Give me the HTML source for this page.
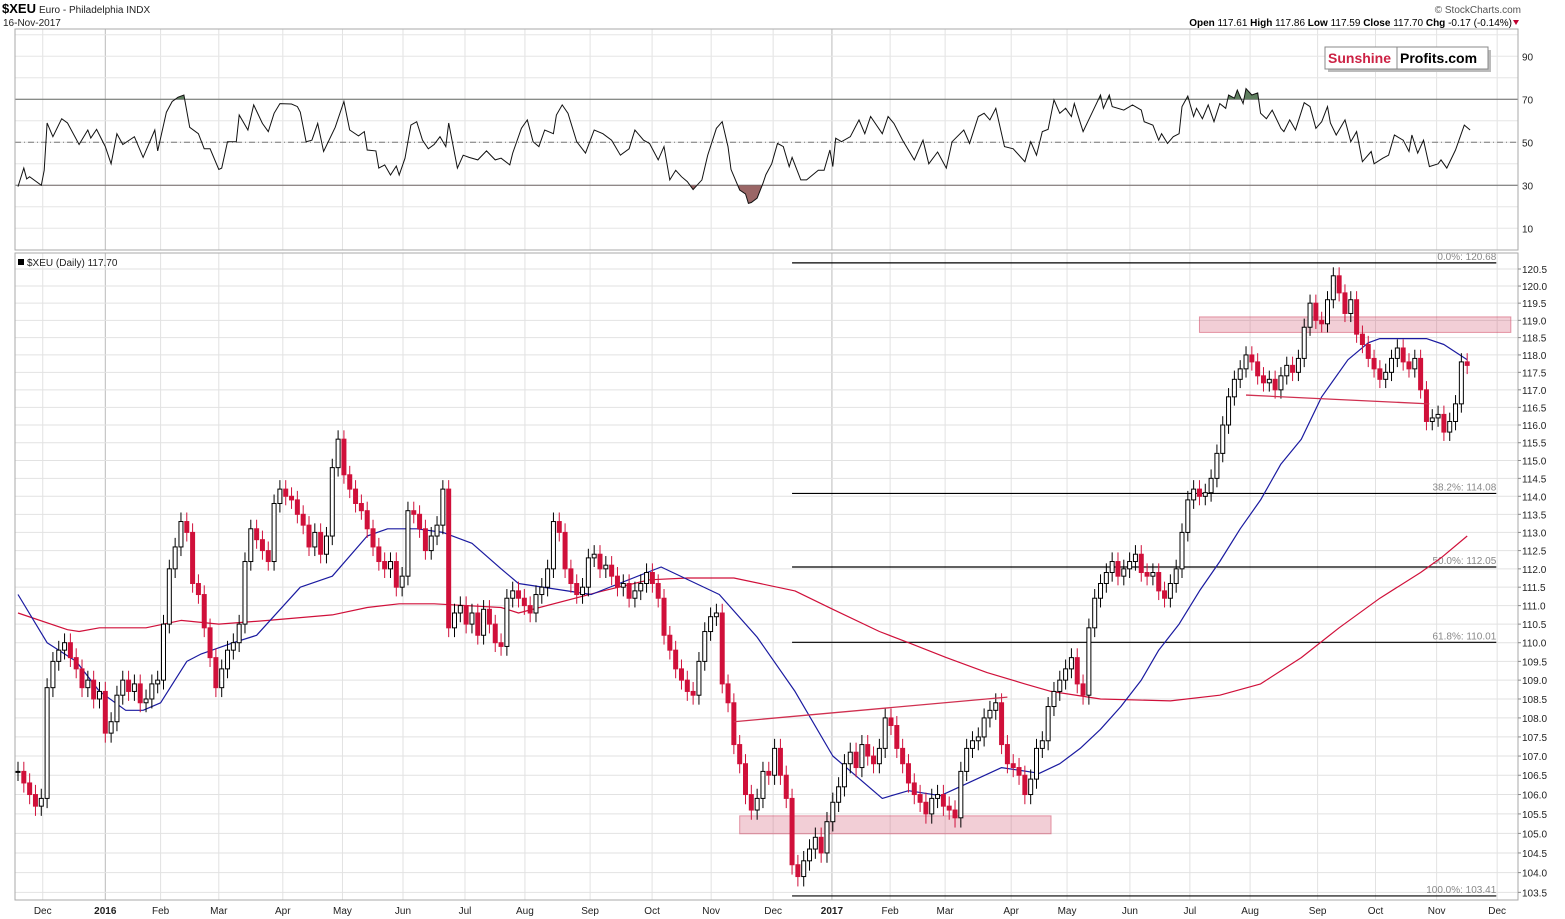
<!DOCTYPE html>
<html><head><meta charset="utf-8">
<style>
body{margin:0;background:#fff;}
svg{display:block;font-family:"Liberation Sans",Arial,sans-serif;}
</style></head>
<body>
<svg id="chart" width="1565" height="919" viewBox="0 0 1565 919" xmlns="http://www.w3.org/2000/svg">
<rect x="0" y="0" width="1565" height="919" fill="#fff"/>
<g>
<text x="2" y="13" font-size="13" font-weight="bold" fill="#000">$XEU</text>
<text x="39" y="13" font-size="10" fill="#222">Euro - Philadelphia INDX</text>
<text x="3" y="26" font-size="10" fill="#222">16-Nov-2017</text>
<text x="1521" y="13" font-size="10" fill="#555" text-anchor="end">© StockCharts.com</text>
<text x="1512" y="26" font-size="10" fill="#000" text-anchor="end"><tspan font-weight="bold">Open</tspan> 117.61 <tspan font-weight="bold">High</tspan> 117.86 <tspan font-weight="bold">Low</tspan> 117.59 <tspan font-weight="bold">Close</tspan> 117.70 <tspan font-weight="bold">Chg</tspan> -0.17 (-0.14%)</text>
<path d="M1513 20 L1519 20 L1516 25 Z" fill="#c00030"/>
</g>
<g id="grid"></g>
<g id="rsi"></g>
<g id="main"></g>
<g id="axes"></g>
<g>
<rect x="1328" y="50" width="163" height="22" fill="#bbb"/>
<rect x="1325" y="47" width="163" height="22" fill="#fff" stroke="#888" stroke-width="1"/>
<line x1="1397" y1="47" x2="1397" y2="69" stroke="#888"/>
<text x="1328" y="63" font-size="14" font-weight="bold" fill="#cc2244">Sunshine</text>
<text x="1400" y="63" font-size="14" font-weight="bold" fill="#000">Profits.com</text>
</g>
</svg>
<script>
// ---- data ----
const closes=[106.6,106.3,106.0,105.7,105.9,108.8,109.5,109.8,110.0,109.6,
109.3,108.8,109.0,108.5,108.7,107.6,107.9,108.6,109.0,108.7,
108.9,108.4,108.5,108.9,109.0,110.5,112.0,112.6,113.3,113.0,
111.6,111.3,110.4,109.6,108.8,109.3,109.8,110.0,110.5,112.2,
113.1,112.8,112.5,112.2,113.8,114.2,114.0,113.9,113.5,113.2,
112.6,113.0,112.4,112.9,114.8,115.6,114.6,114.2,113.8,113.6,
113.1,112.6,112.2,112.0,112.2,111.5,111.8,113.6,113.5,113.1,
112.5,112.9,113.2,114.2,110.4,110.8,111.0,110.5,110.8,110.2,
110.9,110.5,110.0,109.9,111.2,111.4,111.2,111.0,110.8,111.3,
111.5,112.0,113.3,113.0,112.0,111.6,111.3,111.5,112.3,112.4,
112.0,112.1,111.8,111.5,111.6,111.2,111.4,111.6,111.9,111.6,
111.2,110.2,109.8,109.3,109.0,108.7,108.6,109.5,110.3,110.7,
110.8,108.9,108.4,107.3,106.8,106.0,105.6,105.9,106.6,106.5,
107.2,106.5,105.9,104.2,103.9,104.3,104.6,104.9,104.5,105.3,
105.8,106.2,106.8,107.1,106.7,107.3,107.0,106.8,107.2,108.0,
107.8,107.2,106.8,106.3,106.0,105.8,105.5,105.9,106.0,105.7,
105.6,105.4,106.6,107.2,107.4,107.5,108.0,108.2,108.4,107.3,
106.8,106.7,106.5,106.0,106.4,107.2,107.4,108.3,108.7,109.0,
109.3,109.6,108.9,108.6,110.4,111.2,111.6,111.9,112.2,111.8,
112.0,112.2,112.4,111.9,111.8,111.9,111.4,111.2,111.6,112.0,
113.0,113.9,114.2,114.0,114.1,114.5,115.2,116.0,116.8,117.3,
117.6,118.0,117.8,117.4,117.2,117.3,117.0,117.4,117.7,117.5,
117.9,118.8,119.5,119.0,118.9,119.6,120.3,119.8,119.2,119.6,
118.6,118.3,117.9,117.6,117.3,117.5,117.9,118.2,117.8,117.6,
117.9,117.0,116.1,116.2,116.3,115.8,116.1,116.6,117.8,117.7];
const ma50Days=[0,10,20,28,37,43,49,58,63,74,82,97,108,120,127,137,146,156,166,172,197,221,241,254,267,280,297,306,317,338,351,358,365,372,379,386,392,399,406,413,420,427,434,441,448,457,464,468,484,490,498];
const ma50Vals=[111.3,110.0,109.5,108.7,108.2,108.2,108.4,109.5,109.7,110.0,110.2,111.5,111.8,112.9,113.1,113.1,113.0,112.7,112.0,111.6,111.3,112.05,111.3,110.15,108.7,107.0,105.9,106.1,105.97,106.7,106.55,106.8,107.2,107.7,108.3,109.0,109.8,110.5,111.4,112.2,113.1,113.9,114.9,115.6,116.8,117.86,118.35,118.47,118.47,118.3,117.86];
const ma200Days=[0,17,21,28,44,56,69,86,108,120,131,143,166,172,201,217,230,246,267,280,296,306,319,333,346,355,372,396,413,427,441,454,468,482,489,498];
const ma200Vals=[110.8,110.35,110.3,110.4,110.4,110.6,110.5,110.6,110.75,110.95,111.05,111.05,110.95,110.8,111.4,111.7,111.75,111.75,111.4,110.9,110.3,110.0,109.6,109.2,108.9,108.7,108.5,108.45,108.6,108.9,109.6,110.4,111.2,111.9,112.3,112.9];
const rsiDays=[0,2,3,4,8,9,10,12,15,17,21,24,25,27,30,32,34,36,40,43,47,48,51,53,55,57,59,62,64,66,69,70,72,75,76,79,81,84,86,88,90,94,96,97,99,101,103,105,109,112,114,117,119,120,123,124,126,128,130,131,133,135,137,139,141,143,145,147,148,151,153,155,158,161,164,166,169,170,173,175,177,179,181,184,185,187,189,192,195,198,201,204,207,210,212,215,217,220,222,224,226,228,230,232,235,237,240,242,244,245,248,250,251,252,254,256,257,259,261,263,265,266,269,271,275,277,279,280,281,283,286,289,291,293,297,299,301,304,308,311,313,316,319,321,325,327,330,332,334,336,339,342,346,348,350,352,354,356,358,360,362,363,366,369,372,373,375,376,380,383,386,387,390,392,393,395,397,399,400,402,404,405,407,409,411,413,415,416,418,419,421,422,424,426,427,429,431,434,435,437,439,442,444,446,448,450,451,453,456,458,460,462,465,466,469,471,473,476,478,479,481,483,485,488,489,491,494,497,499];
const rsiVals=[29.4,38,33,34,30,37,59,52.6,61,59,49,55.7,52,56,48,40,54,49,52.6,43,55.7,46,64,69,71,72,57,54,47,47,37.4,38,50.3,50.3,62.7,55.7,67.4,58.8,55,63.5,68,67.8,66.6,64,50.3,51,58.8,45.7,57,69,55.7,53,55,46.4,46,38,39.5,34.8,39,34.8,42.6,58,59.6,51,47,49,52.6,48,59,38,44,43,41.8,46,41.8,42.6,39.5,45,56.5,60.4,50.3,48,55.7,54,62.7,67.4,63.5,50.3,45,55.7,54,51,44,47,55.7,51,49.5,41.8,48,32.5,37,34,31.7,28,32.5,44,56.5,59.6,48,37.4,27.8,26,21.6,22,24,31,35,40,49.5,48,38.7,43,32.5,32.5,37,37,46.4,38.7,51.9,50.3,52.6,60.4,54,62,54,62,58.8,51,41.8,51,40,45.5,38,50.3,55.7,49.5,62,63.5,60.4,65.8,48,47,41,50.3,44,55,56,69.7,63.5,65.8,62,68,55,63.5,72,65.8,72,66.6,65,67.4,65,59.6,58,51,54,49.5,52.6,54,66.6,71.5,62,65.8,61,67.4,59.6,68,65.8,72,70.5,74.3,68,75,72,73,63.5,61,65,56.5,55,60.4,55.7,68.4,66.6,56.5,59.6,66.6,59,53.4,60.4,50.3,55,41,45.7,40,42.6,44,53.4,51,45.7,53.4,45,51,38.7,40,41.8,38,46.4,58,55.7];
const priceTicks=[103.5,104.0,104.5,105.0,105.5,106.0,106.5,107.0,107.5,108.0,108.5,109.0,109.5,110.0,110.5,111.0,111.5,112.0,112.5,113.0,113.5,114.0,114.5,115.0,115.5,116.0,116.5,117.0,117.5,118.0,118.5,119.0,119.5,120.0,120.5];
const rsiTicks=[90,70,50,30,10];
const monthLabels=["Dec","2016","Feb","Mar","Apr","May","Jun","Jul","Aug","Sep","Oct","Nov","Dec","2017","Feb","Mar","Apr","May","Jun","Jul","Aug","Sep","Oct","Nov","Dec"];
const monthDays=[8.5,30,49,69,91,111.5,132.3,153.6,174.2,196.6,217.9,238.2,259.5,279.7,299.7,318.6,341.3,360.5,382.1,402.7,423.4,446.6,466.5,487.5,508.3];
const fibLevels=[120.68,114.08,112.05,110.01,103.41];
const fibLabels=["0.0%: 120.68","38.2%: 114.08","50.0%: 112.05","61.8%: 110.01","100.0%: 103.41"];
const fibStartDay=266, fibEndDay=508;
const zoneHigh=[119.1,105.45], zoneLow=[118.65,104.99], zoneStart=[406,248], zoneEnd=[513,355];
const trendStartDay=[246,422], trendStartVal=[107.9,116.85], trendEndDay=[340,485], trendEndVal=[108.55,116.6];
const lastClose=117.70;

// ---- axes ----
const NS="http://www.w3.org/2000/svg";
const L=15,R=1518,RT=29,RB=250,MT=253,MB=900;
const xD=d=>18+d*2.91;
const LN0=Math.log(120.5);
const yP=p=>269+(LN0-Math.log(p))*4099;
const yR=v=>142.3-(v-50)*2.15;
function mk(tag,attrs,parent){const e=document.createElementNS(NS,tag);for(const k in attrs)e.setAttribute(k,attrs[k]);parent.appendChild(e);return e;}
const grid=document.getElementById('grid'),rsiG=document.getElementById('rsi'),mainG=document.getElementById('main'),axes=document.getElementById('axes');

let f=mk('rect',{x:L,y:RT,width:R-L,height:RB-RT,fill:'none',stroke:'#aaa'},axes);


f=mk('rect',{x:L,y:MT,width:R-L,height:MB-MT,fill:'none',stroke:'#aaa'},axes);



monthLabels.forEach((m,i)=>{
  const x=xD(monthDays[i]);
  const yr=/^\d{4}$/.test(m);
  if(x<R){
    mk('line',{x1:x,y1:RT,x2:x,y2:RB,stroke:yr?'#bbb':'#e2e2e2'},grid);
    mk('line',{x1:x,y1:MT,x2:x,y2:MB,stroke:yr?'#bbb':'#e2e2e2'},grid);
  }
  const t=mk('text',{x:x,y:914,'font-size':10,'text-anchor':'middle',fill:'#222','font-weight':yr?'bold':'normal'},axes);
  t.textContent=m;
  
  
});
priceTicks.forEach(p=>{
  const y=yP(p);
  mk('line',{x1:L,y1:y,x2:R,y2:y,stroke:'#e2e2e2'},grid);
  mk('line',{x1:R,y1:y,x2:R+3,y2:y,stroke:'#888'},axes);
  const t=mk('text',{x:R+4,y:y+4,'font-size':10,fill:'#222'},axes);
  t.textContent=p.toFixed(1);
  
  
});
for(let v=10;v<=100;v+=10){mk('line',{x1:L,y1:yR(v),x2:R,y2:yR(v),stroke:'#e6e6e6'},grid);}
rsiTicks.forEach(v=>{
  const t=mk('text',{x:R+4,y:yR(v)+4,'font-size':10,fill:'#222'},axes);
  t.textContent=String(v);
  
  
});
let ln=mk('line',{x1:L,y1:yR(70),x2:R,y2:yR(70),stroke:'#666'},rsiG);


ln=mk('line',{x1:L,y1:yR(30),x2:R,y2:yR(30),stroke:'#666'},rsiG);


ln=mk('line',{x1:L,y1:yR(50),x2:R,y2:yR(50),stroke:'#777','stroke-dasharray':'6,3,1,3'},rsiG);



const rpts=rsiDays.map((d,i)=>[xD(d),yR(rsiVals[i])]);
const defs=mk('defs',{},rsiG);
const c1=mk('clipPath',{id:'below30'},defs);mk('rect',{x:0,y:yR(30),width:1565,height:100},c1);
const c2=mk('clipPath',{id:'above70'},defs);mk('rect',{x:0,y:0,width:1565,height:yR(70)},c2);
const area=(base)=>'M'+rpts[0][0]+','+base+rpts.map(p=>' L'+p[0].toFixed(1)+','+p[1].toFixed(1)).join('')+' L'+rpts[rpts.length-1][0]+','+base+' Z';
let sh=mk('path',{d:area(yR(30)),fill:'#9a6666','clip-path':'url(#below30)'},rsiG);


sh=mk('path',{d:area(yR(70)),fill:'#5f7f5f','clip-path':'url(#above70)'},rsiG);


const rl=mk('polyline',{points:rpts.map(p=>p[0].toFixed(1)+','+p[1].toFixed(1)).join(' '),fill:'none',stroke:'#111','stroke-width':1},rsiG);



const lg=mk('g',{},mainG);


mk('rect',{x:18,y:259,width:6,height:6,fill:'#000'},lg);
const lt=mk('text',{x:27,y:266,'font-size':10,fill:'#222'},lg);
lt.textContent='$XEU (Daily) '+lastClose.toFixed(2);

fibLevels.forEach((p,i)=>{
  const y=yP(p);
  const l=mk('line',{x1:xD(fibStartDay),y1:y,x2:xD(fibEndDay),y2:y,stroke:'#000','stroke-width':1.2},mainG);
  
  
  const t=mk('text',{x:xD(fibEndDay),y:y-3,'font-size':10,fill:'#888','text-anchor':'end'},mainG);
  t.textContent=fibLabels[i];
  
  
});
zoneHigh.forEach((h,i)=>{
  const r=mk('rect',{x:xD(zoneStart[i]),y:yP(h),width:xD(zoneEnd[i])-xD(zoneStart[i]),height:yP(zoneLow[i])-yP(h),fill:'rgba(205,60,90,0.25)',stroke:'rgba(205,60,90,0.5)'},mainG);
  
  
});
function maPath(days,vals){return days.map((d,i)=>xD(d).toFixed(1)+','+yP(vals[i]).toFixed(1)).join(' ');}
let m=mk('polyline',{points:maPath(ma200Days,ma200Vals),fill:'none',stroke:'#d0103a','stroke-width':1.2,'stroke-linejoin':'round'},mainG);


m=mk('polyline',{points:maPath(ma50Days,ma50Vals),fill:'none',stroke:'#1a1aa0','stroke-width':1.2,'stroke-linejoin':'round'},mainG);


const cg=mk('g',{},mainG);


closes.forEach((c,i)=>{
  const o=i>0?closes[i-1]:c;
  const x=xD(i*2);
  const hi=Math.max(o,c)+0.25, lo=Math.min(o,c)-0.25;
  const up=c>=o;
  const col=up?'#000':'#d0103a';
  const g=mk('g',{},cg);
  
  
  mk('line',{x1:x,y1:yP(hi),x2:x,y2:yP(lo),stroke:col,'stroke-width':1},g);
  const yt=yP(Math.max(o,c)),yb=yP(Math.min(o,c));
  mk('rect',{x:x-2,y:yt,width:4,height:Math.max(1,yb-yt),fill:up?'#fff':col,stroke:col,'stroke-width':1},g);
});
trendStartDay.forEach((d,i)=>{
  const l=mk('line',{x1:xD(d),y1:yP(trendStartVal[i]),x2:xD(trendEndDay[i]),y2:yP(trendEndVal[i]),stroke:'#d03050','stroke-width':1.3},mainG);
  
  
});
</script>
</body></html>
